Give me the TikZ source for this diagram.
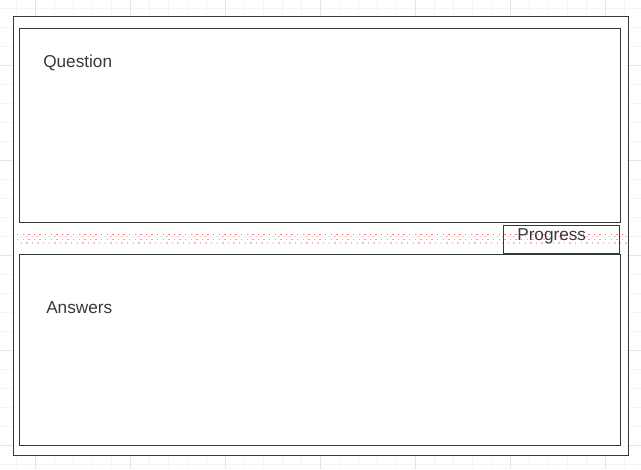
\documentclass[tikz,border=0pt]{standalone}
\usepackage{fontspec}
\setmainfont{Liberation Sans}
\begin{document}
\begin{tikzpicture}[x=0.75pt,y=-0.75pt,
  frame/.style={draw=black!78,line width=0.75pt,fill=white},
  lbl/.style={text=black!78,font=\fontsize{12.9}{14}\selectfont,inner sep=0pt,anchor=west},
  minorgrid/.style={draw=black!4,line width=0.75pt},
  majorgrid/.style={draw=black!10,line width=0.75pt},
  band/.style={draw=red!75,line width=1pt,dash pattern=on 1pt off 3.2pt}]
\useasboundingbox (0,0) rectangle (641,469);
% grid
\foreach \x in {-3,16,...,641} \draw[minorgrid] (\x,0) -- (\x,469);
\foreach \y in {8,27,...,469} \draw[minorgrid] (0,\y) -- (641,\y);
\foreach \x in {35,130,...,641} \draw[majorgrid] (\x,0) -- (\x,469);
\foreach \y in {65,160,...,469} \draw[majorgrid] (0,\y) -- (641,\y);
% outer
\path[frame] (13.5,16.5) rectangle (628.5,455.5) coordinate (outer);
% question and answers
\path[frame] (19.5,28.5) rectangle (620.5,222.5);
\path[frame] (19.5,254.5) rectangle (620.5,445.5);
\node[lbl] (q) at (43,62.5) {Question};
\node[lbl] (a) at (46,308) {Answers};
% dotted band
\draw[band,draw opacity=0.7] (17,234.3) -- (627,234.3);
\draw[band,draw opacity=0.4,dash phase=1.5pt] (17,236.8) -- (627,236.8);
\draw[band,draw opacity=0.5] (17,239.3) -- (627,239.3);
\draw[band,draw opacity=0.35,dash phase=1.5pt] (17,243) -- (627,243);
% progress
\draw[draw=black!78,line width=0.75pt] (503.5,225.5) rectangle (619.5,253.5);
\node[lbl] (p) at (517,236) {Progress};
\end{tikzpicture}
\end{document}
